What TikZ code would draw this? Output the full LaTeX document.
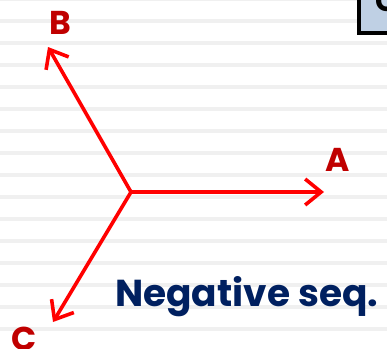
\documentclass[tikz,border=0pt]{standalone}
\usepackage{fontspec}
\setmainfont{Poppins}
\usetikzlibrary{arrows.meta}

\definecolor{phasered}{HTML}{FF0000}
\definecolor{labelred}{HTML}{C00000}
\definecolor{seqnavy}{HTML}{002060}
\definecolor{stripegray}{HTML}{F0F0F0}
\definecolor{boxblue}{HTML}{BFD0E4}

\begin{document}
\begin{tikzpicture}[x=1pt,y=-1pt,
    phasor/.style={draw=phasered, line width=3.6pt,
        -{Straight Barb[length=16pt,width=26pt,line width=3.6pt]}},
    phaselabel/.style={text=labelred, inner sep=0pt,
        font=\bfseries\fontsize{33}{33}\selectfont}]

    \useasboundingbox (0,0) rectangle (387,348);
    \clip (0,0) rectangle (387,348);

    % Background stripes
    \foreach \k in {0,...,15}
        \fill[stripegray] (0,{22*\k-3}) rectangle (387,{22*\k+1});

    % Corner box
    \draw[line width=4pt, fill=boxblue] (359,-5) rectangle (395,33);
    \node[anchor=base west, inner sep=0pt, text=black,
        font=\bfseries\fontsize{30}{30}\selectfont] (boxtext) at (375,12) {C};

    % Phasors
    \coordinate (O) at (131,192);
    \coordinate (tipA) at (324,192);
    \coordinate (tipB) at (48,47);
    \coordinate (tipC) at (53,322);
    \draw[phasor] (O) -- (tipA);
    \draw[phasor] (O) -- (tipB);
    \draw[phasor] (O) -- (tipC);

    % Labels
    \node[phaselabel] (A) at (338,160) {A};
    \node[phaselabel] (B) at (60,23) {B};
    \node[phaselabel] (C) at (24,339) {C};
    \node[anchor=base west, inner sep=0pt, text=seqnavy,
        font=\bfseries\fontsize{37.5}{37.5}\selectfont] (seq) at (115,306) {Negative seq.};

\end{tikzpicture}
\end{document}
